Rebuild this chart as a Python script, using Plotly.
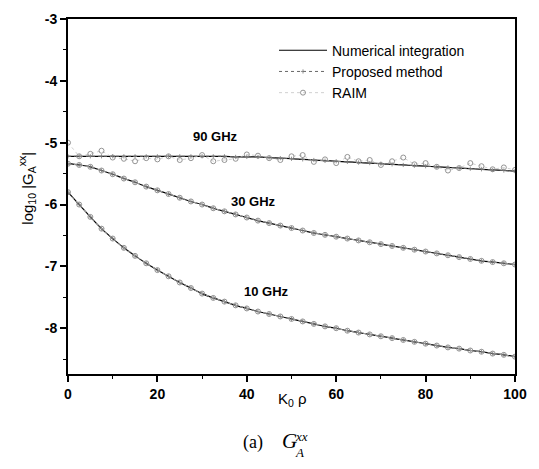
import plotly.graph_objects as go

# ---------------- data ----------------
K0RHO = [0, 2.5, 5, 7.5, 10, 12.5, 15, 17.5, 20, 22.5, 25, 27.5, 30, 32.5, 35, 37.5,
         40, 42.5, 45, 47.5, 50, 52.5, 55, 57.5, 60, 62.5, 65, 67.5, 70, 72.5, 75,
         77.5, 80, 82.5, 85, 87.5, 90, 92.5, 95, 97.5, 100]

G10 = [-5.80, -6.00, -6.20, -6.39, -6.55, -6.70, -6.83, -6.95, -7.06, -7.16, -7.26,
       -7.35, -7.44, -7.51, -7.57, -7.63, -7.68, -7.73, -7.77, -7.81, -7.85, -7.89,
       -7.93, -7.97, -8.00, -8.04, -8.07, -8.10, -8.13, -8.16, -8.19, -8.22, -8.25,
       -8.28, -8.31, -8.33, -8.36, -8.38, -8.41, -8.43, -8.46]

G30 = [-5.34, -5.36, -5.39, -5.45, -5.51, -5.58, -5.64, -5.71, -5.77, -5.83, -5.89,
       -5.95, -6.00, -6.06, -6.11, -6.16, -6.21, -6.26, -6.30, -6.34, -6.38, -6.42,
       -6.46, -6.49, -6.52, -6.55, -6.58, -6.61, -6.64, -6.67, -6.70, -6.73, -6.76,
       -6.79, -6.82, -6.85, -6.88, -6.91, -6.93, -6.95, -6.97]

G90 = [-5.22, -5.22, -5.22, -5.22, -5.22, -5.22, -5.22, -5.22, -5.22, -5.22, -5.22,
       -5.22, -5.22, -5.22, -5.22, -5.23, -5.23, -5.23, -5.24, -5.25, -5.26, -5.27,
       -5.28, -5.29, -5.30, -5.31, -5.32, -5.33, -5.34, -5.35, -5.36, -5.37, -5.38,
       -5.39, -5.40, -5.41, -5.42, -5.43, -5.44, -5.45, -5.46]

G90_RAIM = [-5.00, -5.22, -5.18, -5.13, -5.24, -5.26, -5.30, -5.25, -5.27, -5.22, -5.28,
            -5.25, -5.20, -5.30, -5.28, -5.26, -5.19, -5.21, -5.25, -5.28, -5.22, -5.20,
            -5.31, -5.27, -5.33, -5.23, -5.30, -5.28, -5.36, -5.30, -5.24, -5.35, -5.33,
            -5.39, -5.45, -5.41, -5.33, -5.38, -5.43, -5.40, -5.44]

CURVES = [("10 GHz", G10, G10), ("30 GHz", G30, G30), ("90 GHz", G90, G90_RAIM)]

Y_TICKS = [-3, -4, -5, -6, -7, -8]
Y_TICK_TEXT = ["-3", "-4", "-5", "-6", "-7", "-8"]
X_TICKS = [0, 20, 40, 60, 80, 100]
X_TICK_TEXT = ["0", "20", "40", "60", "80", "100"]

# -------------- figure ---------------
W, H = 539, 469
L, R, T, B = 68, 24, 11, 95
PW, PH = W - L - R, H - T - B


def px_x(p):
    return (p - L) / PW


def px_y(p):
    return 1 - (p - T) / PH


fig = go.Figure()
for i, (name, num, raim) in enumerate(CURVES):
    fig.add_trace(go.Scatter(
        x=K0RHO, y=num, mode="lines", name="Numerical integration",
        legendgroup="num", showlegend=(i == 0), line_shape="spline",
        line=dict(color="black", width=1.2)))
    fig.add_trace(go.Scatter(
        x=K0RHO, y=num, mode="lines+markers", name="Proposed method",
        legendgroup="prop", showlegend=(i == 0), line_shape="spline",
        line=dict(color="#666666", width=1, dash="dot"),
        marker=dict(symbol="cross-thin", size=3, line=dict(color="#777777", width=0.8))))
    fig.add_trace(go.Scatter(
        x=K0RHO, y=raim, mode="lines+markers", name="RAIM",
        legendgroup="raim", showlegend=(i == 0),
        line=dict(color="#bbbbbb", width=0.7, dash="dot"),
        marker=dict(symbol="circle-open", size=5, color="#888888",
                    line=dict(color="#888888", width=0.9))))

axis_font = dict(family="Liberation Sans, Arial", size=14, color="black", weight="bold")

fig.update_layout(
    width=W, height=H,
    margin=dict(l=L, r=R, t=T, b=B),
    paper_bgcolor="white", plot_bgcolor="white",
    showlegend=True,
    legend=dict(x=px_x(274), y=px_y(27), xanchor="left", yanchor="top",
                bgcolor="rgba(0,0,0,0)", font=dict(family="Liberation Sans, Arial", size=14, color="black"),
                tracegroupgap=0, itemwidth=48),
    xaxis=dict(range=[0, 100], tickvals=X_TICKS, ticktext=X_TICK_TEXT,
               showline=True, linecolor="black", linewidth=1.8, mirror=True,
               ticks="outside", ticklen=6, tickwidth=1.5, tickcolor="black",
               minor=dict(dtick=10, ticks="outside", ticklen=3, tickwidth=1.2, tickcolor="black"),
               showgrid=False, zeroline=False, tickfont=axis_font),
    yaxis=dict(range=[-8.74, -3], tickvals=Y_TICKS, ticktext=Y_TICK_TEXT,
               showline=True, linecolor="black", linewidth=1.8, mirror=True,
               ticks="outside", ticklen=6, tickwidth=1.5, tickcolor="black",
               minor=dict(dtick=0.5, ticks="outside", ticklen=3, tickwidth=1.2, tickcolor="black"),
               showgrid=False, zeroline=False, tickfont=axis_font),
    xaxis2=dict(range=[0, 100], overlaying="x", side="top", anchor="y",
                tickvals=X_TICKS, showticklabels=False, ticks="inside", ticklen=6,
                tickwidth=1.5, tickcolor="black",
                minor=dict(dtick=10, ticks="inside", ticklen=3, tickwidth=1.2, tickcolor="black"),
                showgrid=False, zeroline=False, showline=False),
    yaxis2=dict(range=[-8.74, -3], overlaying="y", side="right", anchor="x",
                tickvals=Y_TICKS, showticklabels=False, ticks="inside", ticklen=6,
                tickwidth=1.5, tickcolor="black",
                minor=dict(dtick=0.5, ticks="inside", ticklen=3, tickwidth=1.2, tickcolor="black"),
                showgrid=False, zeroline=False, showline=False),
)

# curve labels
label_font = dict(family="Liberation Sans, Arial", size=13, color="black")
for txt, xx, yy in [("<b>90 GHz</b>", 33.1, -4.90), ("<b>30 GHz</b>", 41.6, -5.95),
                    ("<b>10 GHz</b>", 44.5, -7.40)]:
    fig.add_annotation(x=xx, y=yy, xref="x", yref="y", text=txt, showarrow=False,
                       font=label_font)

# axis titles
fig.add_annotation(x=px_x(14), y=px_y(184), xref="paper", yref="paper",
                   text="log<sub>10</sub> |G<sub>A</sub><sup>xx</sup>|", textangle=-90,
                   showarrow=False, font=dict(family="Liberation Sans, Arial", size=15, color="black"))
fig.add_annotation(x=px_x(292), y=px_y(412), xref="paper", yref="paper",
                   text="K<sub>0</sub> ρ", showarrow=False,
                   font=dict(family="Liberation Sans, Arial", size=15, color="black"))

# caption
serif = "Liberation Serif, Times New Roman"
fig.add_annotation(x=px_x(253), y=px_y(457), xref="paper", yref="paper", text="(a)",
                   showarrow=False, font=dict(family=serif, size=18, color="black"))
fig.add_annotation(x=px_x(289), y=px_y(457), xref="paper", yref="paper", text="<i>G</i>",
                   showarrow=False, font=dict(family=serif, size=21, color="black"))
fig.add_annotation(x=px_x(301), y=px_y(448), xref="paper", yref="paper", text="<i>xx</i>",
                   showarrow=False, font=dict(family=serif, size=13, color="black"))
fig.add_annotation(x=px_x(299), y=px_y(464), xref="paper", yref="paper", text="<i>A</i>",
                   showarrow=False, font=dict(family=serif, size=13, color="black"))

fig.write_html("out.html")
